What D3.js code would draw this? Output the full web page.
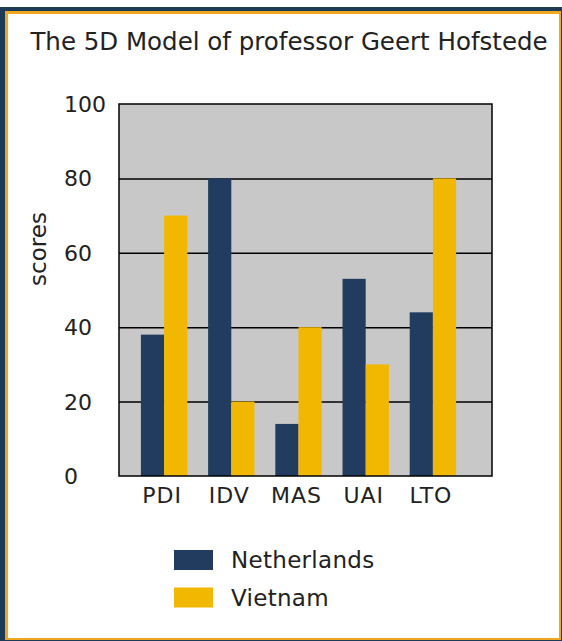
<!DOCTYPE html>
<html>
<head>
<meta charset="utf-8">
<script src="https://cdn.jsdelivr.net/npm/d3@7"></script>
<style>
    body { margin: 0; background: #fff; }
    svg { display: block; font-family: "DejaVu Sans", Verdana, sans-serif; }
</style>
</head>
<body>
<svg width="562" height="641"></svg>
<script>
const categories = ["PDI", "IDV", "MAS", "UAI", "LTO"];
const seriesNames = ["Netherlands", "Vietnam"];
const netherlands = [38, 80, 14, 53, 44];
const vietnam = [70, 20, 40, 30, 80];
const yTicks = [0, 20, 40, 60, 80, 100];
const colors = ["#213c5e", "#f2b700"];

const svg = d3.select("svg");

// frame
svg.append("rect").attr("x", 0).attr("y", 7).attr("width", 562).attr("height", 634).attr("fill", "#1d3a57");
svg.append("rect").attr("x", 5).attr("y", 11).attr("width", 556).attr("height", 629).attr("fill", "#f0a820");
svg.append("rect").attr("x", 8).attr("y", 14).attr("width", 551).attr("height", 624).attr("fill", "#fff");

const plot = {left: 119, right: 492, top: 104, bottom: 476};

const y = d3.scaleLinear().domain([0, 100]).range([plot.bottom, plot.top]);
const x = d3.scaleBand().domain(categories).range([130.5, 466.5]).paddingInner(0.31).paddingOuter(0.155);
const xs = d3.scaleBand().domain(seriesNames).range([0, x.bandwidth()]);

svg.append("rect")
    .attr("x", plot.left).attr("y", plot.top)
    .attr("width", plot.right - plot.left).attr("height", plot.bottom - plot.top)
    .attr("fill", "#c8c8c8");

// grid
svg.append("g")
    .attr("transform", `translate(${plot.left},0)`)
    .call(d3.axisLeft(y).tickValues(yTicks.slice(1, -1)).tickSize(-(plot.right - plot.left)).tickFormat(""))
    .call(g => g.select(".domain").remove())
    .call(g => g.selectAll("line").attr("stroke", "#000").attr("stroke-width", 1.5));

// bars
const rows = categories.map((c, i) => ({cat: c, values: [netherlands[i], vietnam[i]]}));
svg.append("g").selectAll("g")
    .data(rows)
    .enter().append("g")
    .attr("transform", d => `translate(${x(d.cat)},0)`)
    .selectAll("rect")
    .data(d => d.values.map((v, j) => ({name: seriesNames[j], v, j})))
    .enter().append("rect")
    .attr("x", d => xs(d.name))
    .attr("y", d => y(d.v))
    .attr("width", xs.bandwidth())
    .attr("height", d => y(0) - y(d.v))
    .attr("fill", d => colors[d.j]);

// plot border
svg.append("rect")
    .attr("x", plot.left).attr("y", plot.top)
    .attr("width", plot.right - plot.left).attr("height", plot.bottom - plot.top)
    .attr("fill", "none").attr("stroke", "#000").attr("stroke-width", 1.5);

// y tick labels
svg.append("g").selectAll("text")
    .data(yTicks)
    .enter().append("text")
    .attr("x", 64)
    .attr("y", d => y(d))
    .attr("dy", "0.36em")
    .attr("font-size", 22)
    .attr("fill", "#222")
    .text(d => d);

// x labels
svg.append("g").selectAll("text")
    .data(categories)
    .enter().append("text")
    .attr("x", d => x(d) + x.bandwidth() / 2 - 2)
    .attr("y", 503)
    .attr("text-anchor", "middle")
    .attr("font-size", 22)
    .attr("letter-spacing", 1)
    .attr("fill", "#222")
    .text(d => d);

svg.append("text")
    .attr("transform", "translate(46,249) rotate(-90)")
    .attr("text-anchor", "middle")
    .attr("font-size", 23)
    .attr("fill", "#222")
    .text("scores");

svg.append("text")
    .attr("x", 289).attr("y", 50)
    .attr("text-anchor", "middle")
    .attr("font-size", 24.5)
    .attr("fill", "#222")
    .text("The 5D Model of professor Geert Hofstede");

// legend
const legend = svg.append("g").selectAll("g")
    .data(seriesNames)
    .enter().append("g")
    .attr("transform", (d, i) => `translate(174,${550 + i * 37.5})`);
legend.append("rect").attr("width", 39).attr("height", 20).attr("fill", (d, i) => colors[i]);
legend.append("text").attr("x", 57).attr("y", 18).attr("font-size", 23).attr("letter-spacing", 0.3).attr("fill", "#222").text(d => d);
</script>
</body>
</html>
